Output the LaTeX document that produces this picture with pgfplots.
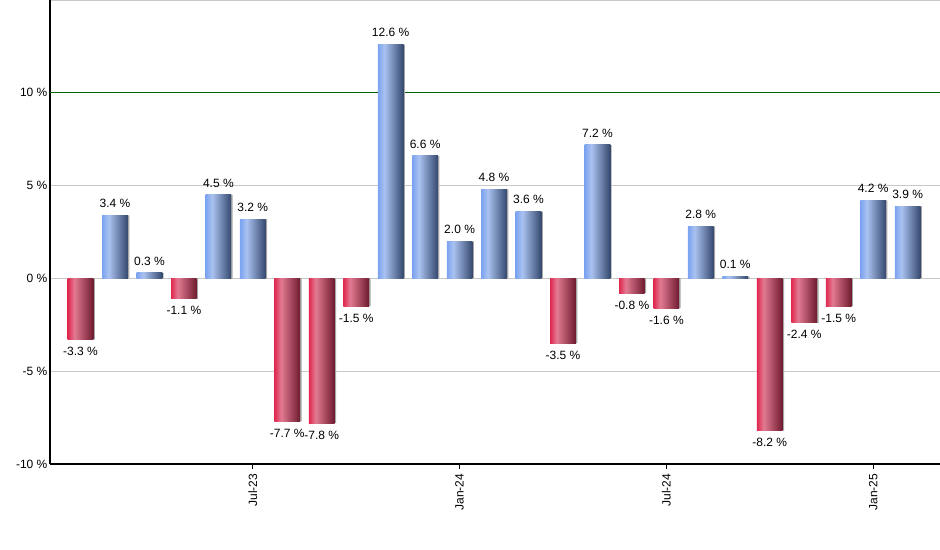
\documentclass[border=0pt]{standalone}
\usepackage{fontspec}
\setmainfont{Liberation Sans}
\usepackage{pgfplots}
\pgfplotsset{compat=1.18}

\definecolor{bL}{HTML}{7BA3F0}
\definecolor{bM}{HTML}{AAC2F0}
\definecolor{bR}{HTML}{34486E}
\definecolor{rL}{HTML}{E0284F}
\definecolor{rM}{HTML}{E27A92}
\definecolor{rR}{HTML}{6E1A2E}
\definecolor{gridgray}{HTML}{C8C8C8}
\definecolor{tengreen}{HTML}{006400}

\pgfdeclarehorizontalshading{bluebar}{100bp}{color(0bp)=(bL); color(25bp)=(bL); color(38bp)=(bM); color(75bp)=(bR); color(100bp)=(bR)}
\pgfdeclarehorizontalshading{redbar}{100bp}{color(0bp)=(rL); color(25bp)=(rL); color(38bp)=(rM); color(75bp)=(rR); color(100bp)=(rR)}

\pgfplotsset{
  up/.style={draw=none, shade, shading=bluebar, bar shift=0pt, point meta=y},
  down/.style={draw=none, shade, shading=redbar, bar shift=0pt, point meta=y},
  shadow/.style={fill=gray!70, draw=none, bar shift=1.1pt, nodes near coords={}},
}

\begin{document}
\begin{tikzpicture}
  \useasboundingbox (-37.5pt,-64.5pt) rectangle (667.5pt,348pt);
  \begin{axis}[
    at={(0,0)}, anchor=south west,
    scale only axis,
    width=667.5pt, height=348pt,
    xmin=-0.885, xmax=24.94,
    ymin=-10, ymax=15,
    axis x line*=bottom,
    axis y line*=left,
    axis line style={-, black, line width=0.8pt},
    ybar, bar width=0.745,
    xtick={5,11,17,23},
    xticklabels={Jul-23, Jan-24, Jul-24, Jan-25},
    xticklabel style={rotate=90, anchor=east, font=\fontsize{9}{10}\selectfont},
    xtick style={black, line width=0.6pt},
    tick align=outside,
    major tick length=3.75pt,
    ytick={-10,-5,0,5,10,15},
    yticklabels={-10 \%, -5 \%, 0 \%, 5 \%, 10 \%, },
    ytick style={draw=none},
    yticklabel style={font=\fontsize{9}{10}\selectfont, xshift=5.3pt},
    ymajorgrids,
    grid style={gridgray, line width=0.6pt},
    extra y ticks={10},
    extra y tick labels={},
    extra y tick style={grid style={tengreen, line width=0.8pt}},
    nodes near coords={\pgfmathprintnumber[fixed,fixed zerofill,precision=1,assume math mode=true]{\pgfplotspointmeta}\ \%},
    every node near coord/.append style={font=\fontsize{9}{10}\selectfont, black, inner xsep=2.5pt, inner ysep=5.5pt},
  ]
    % x = months since Feb-23
    \addplot[shadow] coordinates {(0,-3.3) (1,3.4) (2,0.3) (3,-1.1) (4,4.5) (5,3.2) (6,-7.7) (7,-7.8) (8,-1.5) (9,12.6) (10,6.6) (11,2.0) (12,4.8)
      (13,3.6) (14,-3.5) (15,7.2) (16,-0.8) (17,-1.6) (18,2.8) (19,0.1) (20,-8.2) (21,-2.4) (22,-1.5) (23,4.2) (24,3.9)};
    \addplot[down] coordinates {(0,-3.3)};
    \addplot[up]   coordinates {(1,3.4)};
    \addplot[up]   coordinates {(2,0.3)};
    \addplot[down] coordinates {(3,-1.1)};
    \addplot[up]   coordinates {(4,4.5)};
    \addplot[up]   coordinates {(5,3.2)};
    \addplot[down] coordinates {(6,-7.7)};
    \addplot[down] coordinates {(7,-7.8)};
    \addplot[down] coordinates {(8,-1.5)};
    \addplot[up]   coordinates {(9,12.6)};
    \addplot[up]   coordinates {(10,6.6)};
    \addplot[up]   coordinates {(11,2.0)};
    \addplot[up]   coordinates {(12,4.8)};
    \addplot[up]   coordinates {(13,3.6)};
    \addplot[down] coordinates {(14,-3.5)};
    \addplot[up]   coordinates {(15,7.2)};
    \addplot[down] coordinates {(16,-0.8)};
    \addplot[down] coordinates {(17,-1.6)};
    \addplot[up]   coordinates {(18,2.8)};
    \addplot[up]   coordinates {(19,0.1)};
    \addplot[down] coordinates {(20,-8.2)};
    \addplot[down] coordinates {(21,-2.4)};
    \addplot[down] coordinates {(22,-1.5)};
    \addplot[up]   coordinates {(23,4.2)};
    \addplot[up]   coordinates {(24,3.9)};
  \end{axis}
\end{tikzpicture}
\end{document}
